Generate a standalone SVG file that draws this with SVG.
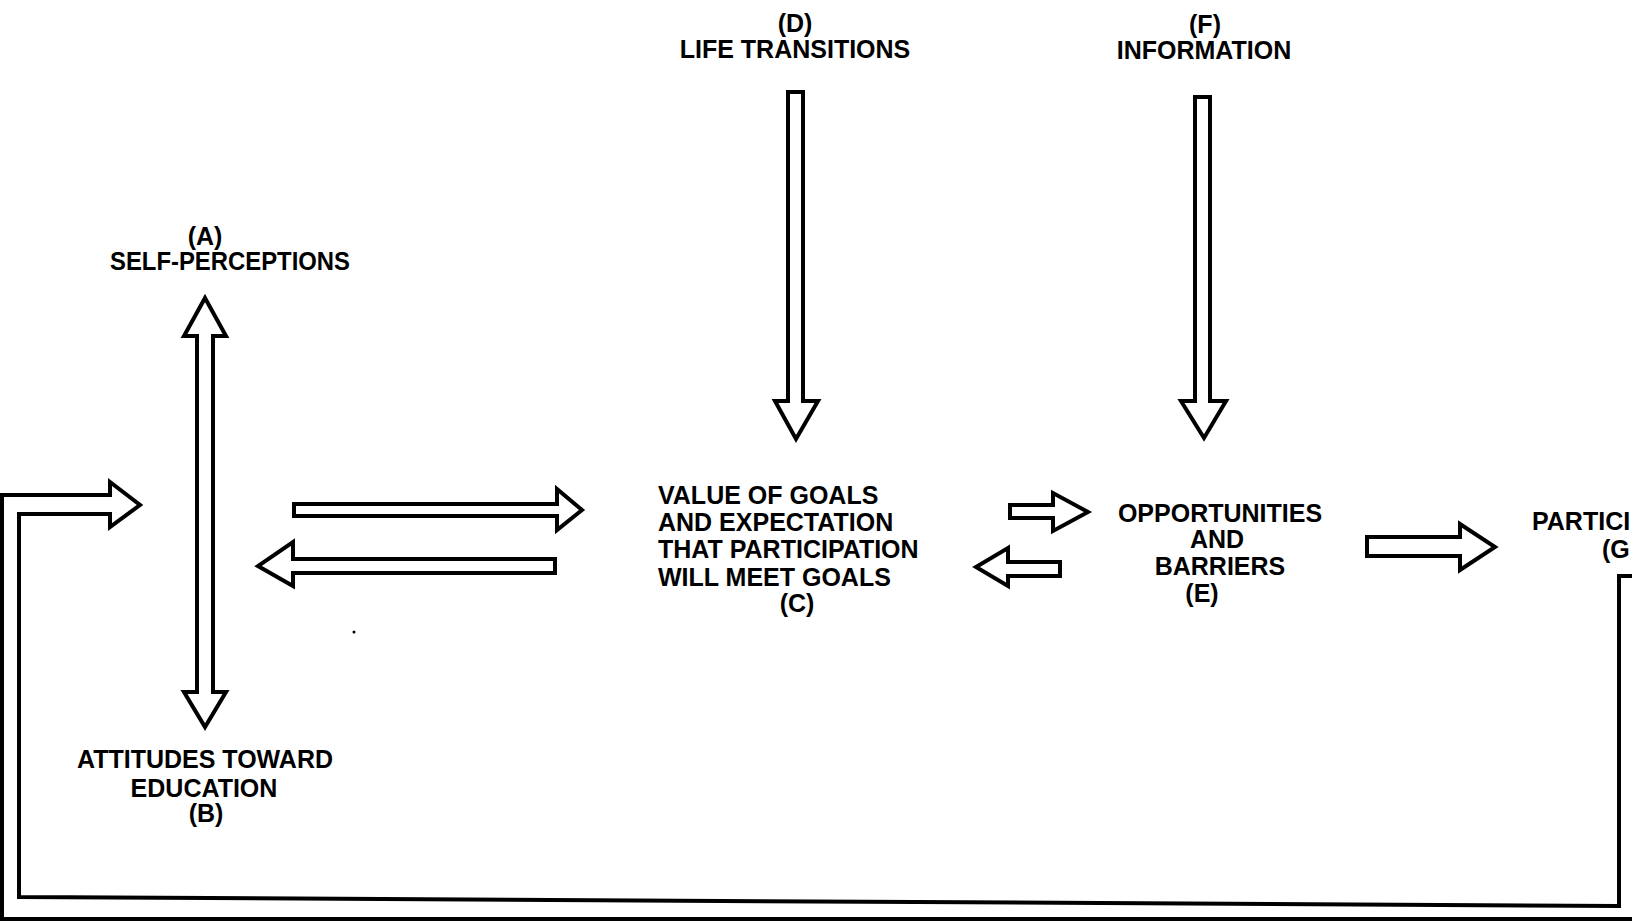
<svg xmlns="http://www.w3.org/2000/svg" width="1632" height="922" viewBox="0 0 1632 922">
<style>
.lbl{font-family:"Liberation Sans",Arial,Helvetica,sans-serif;font-weight:bold;font-size:25px;fill:#000}
.mid{text-anchor:middle}
.arrow{fill:#fff;stroke:#000;stroke-width:4;stroke-linejoin:miter}
.line{fill:none;stroke:#000;stroke-width:4;stroke-linejoin:miter}
</style>
<rect x="0" y="0" width="1632" height="922" fill="#fff"/>
<g id="node-A">
<text class="lbl mid" x="205" y="245">(A)</text>
<text class="lbl mid" x="230" y="270" textLength="240" lengthAdjust="spacingAndGlyphs">SELF-PERCEPTIONS</text>
</g>
<g id="node-B">
<text class="lbl mid" x="205" y="768">ATTITUDES TOWARD</text>
<text class="lbl mid" x="204" y="797">EDUCATION</text>
<text class="lbl mid" x="206" y="822">(B)</text>
</g>
<g id="node-C">
<text class="lbl" x="658" y="504">VALUE OF GOALS</text>
<text class="lbl" x="658" y="531">AND EXPECTATION</text>
<text class="lbl" x="658" y="558">THAT PARTICIPATION</text>
<text class="lbl" x="658" y="586">WILL MEET GOALS</text>
<text class="lbl mid" x="797" y="612">(C)</text>
</g>
<g id="node-D">
<text class="lbl mid" x="795" y="32">(D)</text>
<text class="lbl mid" x="795" y="58">LIFE TRANSITIONS</text>
</g>
<g id="node-E">
<text class="lbl mid" x="1220" y="522">OPPORTUNITIES</text>
<text class="lbl mid" x="1217" y="548">AND</text>
<text class="lbl mid" x="1220" y="575">BARRIERS</text>
<text class="lbl mid" x="1202" y="602">(E)</text>
</g>
<g id="node-F">
<text class="lbl mid" x="1205" y="33">(F)</text>
<text class="lbl mid" x="1204" y="59">INFORMATION</text>
</g>
<g id="node-G">
<text class="lbl" x="1532" y="530">PARTICI</text>
<text class="lbl" x="1602" y="558">(G</text>
</g>
<g id="connectors">
<polygon class="arrow" points="205,298 226,336 213,336 213,692 226,692 205,727 184,692 197,692 197,336 184,336"/>
<polygon class="arrow" points="788,92 803,92 803,401 818,401 796,439 775,401 788,401"/>
<polygon class="arrow" points="1195,97 1210,97 1210,401 1226,401 1204,438 1181,401 1195,401"/>
<polygon class="arrow" points="294,504 557,504 557,489 582,510 557,530 557,516 294,516"/>
<polygon class="arrow" points="555,559 293,559 293,542 258,566 293,586 293,573 555,573"/>
<polygon class="arrow" points="1010,505 1053,505 1053,493 1088,512 1053,531 1053,518 1010,518"/>
<polygon class="arrow" points="1060,562 1008,562 1008,548 976,567 1008,586 1008,576 1060,576"/>
<polygon class="arrow" points="1367,537 1460,537 1460,524 1495,547 1460,570 1460,556 1367,556"/>
<polyline class="line" points="1632,919 2,919 2,495 110,495 110,482 140,505 110,527 110,514 19,514 19,897 1619,906 1619,576 1632,576"/>
</g>
<circle cx="354" cy="632" r="1.5" fill="#000"/>
</svg>
